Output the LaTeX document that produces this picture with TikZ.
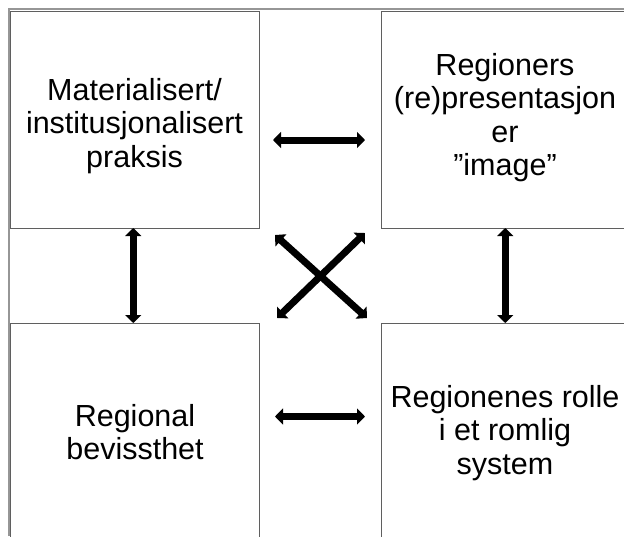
\documentclass[tikz,border=0pt]{standalone}
\usepackage{fontspec}
\setmainfont{Liberation Sans}
\usepackage{tikz}
\usetikzlibrary{arrows.meta}
\definecolor{frame}{RGB}{150, 150, 150}
\definecolor{edge}{RGB}{95, 95, 95}

\begin{document}
\begin{tikzpicture}[x=1pt, y=-1pt]
    \tikzstyle{regbox}=[rectangle, draw=edge, line width=1pt, minimum width=248.5pt,
    minimum height=217pt, inner sep=0pt, outer sep=0pt]
    \tikzstyle{regtext}=[align=center, font=\fontsize{30.5}{33.5}\selectfont]
    \tikzstyle{link}=[line width=7pt,
    {Triangle[length=8pt,width=16pt]}-{Triangle[length=8pt,width=16pt]}]

    % Clip to the slide
    \clip (0, 0) rectangle (624, 536);

    % Slide border
    \draw [line width=2pt, color=frame] (8.5, 536) -- (8.5, 9) -- (624, 9);

    % Boxes
    \node [regbox] (mat) at (134.75, 119.5) {};
    \node [regbox] (rep) at (505.25, 119.5) {};
    \node [regbox] (bev) at (134.75, 431.5) {};
    \node [regbox] (rolle) at (505.25, 431.5) {};

    % Box texts
    \node [regtext] (mattext) at (134.5, 126) {Materialisert/\\institusjonalisert\\praksis};
    \node [regtext] (reptext) at (505, 117.5) {Regioners\\(re)presentasjon\\er\\”image”};
    \node [regtext] (bevtext) at (135, 432) {Regional\\bevissthet};
    \node [regtext] (rolletext) at (505, 433) {Regionenes rolle\\i et romlig\\system};

    % Horizontal links
    \draw [link] ([xshift=14pt, yshift=-20.5pt]mat.east) -- ([xshift=-16pt, yshift=-20.5pt]rep.west);
    \draw [link] ([xshift=16pt, yshift=15pt]bev.east) -- ([xshift=-16pt, yshift=15pt]rolle.west);

    % Vertical links
    \draw [link] ([xshift=-1.5pt]mat.south) -- ([xshift=-1.5pt]bev.north);
    \draw [link] (rep.south) -- (rolle.north);

    % Crossing links
    \draw [link] ([shift={(16pt,-7pt)}]mat.south east) -- ([shift={(-14pt,5pt)}]rolle.north west);
    \draw [link] ([shift={(-16pt,-5pt)}]rep.south west) -- ([shift={(18pt,5pt)}]bev.north east);

\end{tikzpicture}
\end{document}
